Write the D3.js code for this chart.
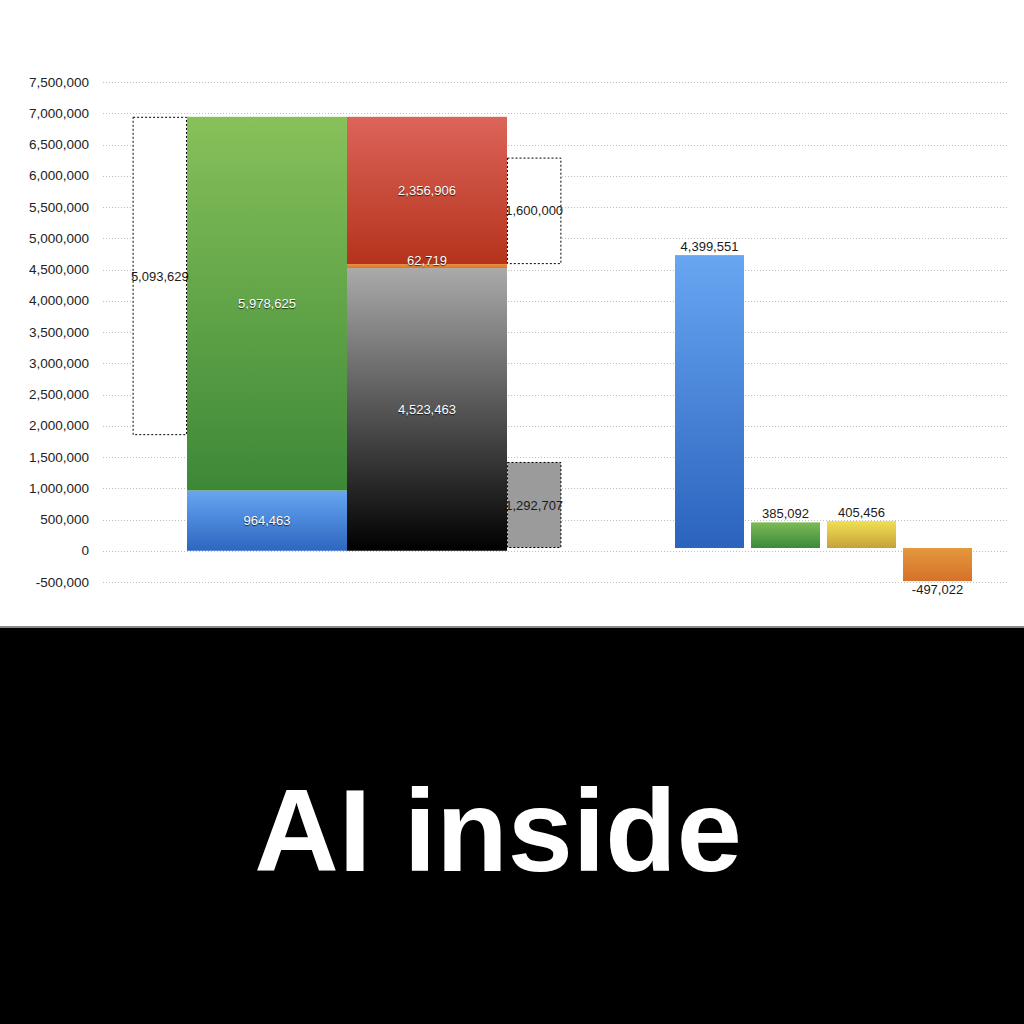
<!DOCTYPE html>
<html>
<head>
<meta charset="utf-8">
<script src="https://cdn.jsdelivr.net/npm/d3@7"></script>
<style>
  html, body { margin: 0; padding: 0; background: #fff; }
  text { font-family: "Liberation Sans", Helvetica, Arial, sans-serif; }
</style>
</head>
<body>
<div id="chart"></div>
<script>
// axis ticks
const ticks = [-500000, 0, 500000, 1000000, 1500000, 2000000, 2500000, 3000000,
  3500000, 4000000, 4500000, 5000000, 5500000, 6000000, 6500000, 7000000, 7500000]

// left stack: base + growth
const stackA = [
  { name: 'base', value: 964463, colors: ['#67a6f2', '#2d66c0'] },
  { name: 'growth', value: 5978625, colors: ['#87c15a', '#3d8837'] }
]
// right stack
const stackB = [
  { name: 'cost', value: 4523463, colors: ['#aaaaaa', '#000000'] },
  { name: 'other', value: 62719, colors: ['#ee8f3a', '#e0761f'] },
  { name: 'profit', value: 2356906, colors: ['#dc645a', '#b5331b'] }
]
// dotted boxes
const boxLeft = 5093629
const boxRight = 1600000
const boxGray = 1292707

// right-hand bars
const barCats = ['a', 'b', 'c', 'd']
const barValues = [4399551, 385092, 405456, -497022]
const barColors = [
  ['#68a6f2', '#2b63bd'],
  ['#7cbb56', '#3a8a3c'],
  ['#f2e052', '#c4a23a'],
  ['#e4983e', '#d6712a']
]

const fmt = d3.formatLocale({ decimal: '.', thousands: ',', grouping: [3], currency: ['', ''], minus: '-' }).format(',')

const svg = d3.select('#chart')
  .append('svg')
    .attr('width', 1024)
    .attr('height', 1024)

const defs = svg.append('defs')
function grad(id, c) {
  const g = defs.append('linearGradient')
    .attr('id', id)
    .attr('x1', 0).attr('y1', 0).attr('x2', 0).attr('y2', 1)
  g.append('stop').attr('offset', '0%').attr('stop-color', c[0])
  g.append('stop').attr('offset', '100%').attr('stop-color', c[1])
  return 'url(#' + id + ')'
}

const y = d3.scaleLinear().domain([-500000, 7500000]).range([582, 82])
// the right bars (and the right boxes) were pasted with their own slightly larger scale
const yR = d3.scaleLinear().domain([-500000, 7000000]).range([581.3, 82])
const hR = v => yR(0) - yR(v)

const xStack = d3.scaleBand().domain(['A', 'B']).range([187, 507]).padding(0)
const boxW = xStack.bandwidth() * 0.34
const xBar = d3.scaleBand().domain(barCats).range([671.5, 975.5])
  .paddingInner(0.092).paddingOuter(0.046)

// grid + axis labels
const axis = svg.append('g')
axis.selectAll('line')
  .data(ticks)
  .join('line')
    .attr('x1', 103).attr('x2', 1007)
    .attr('y1', d => Math.round(y(d)) + 0.5)
    .attr('y2', d => Math.round(y(d)) + 0.5)
    .style('stroke', '#bdbdbd')
    .style('stroke-width', 1)
    .style('stroke-dasharray', '1,2')
axis.selectAll('text')
  .data(ticks)
  .join('text')
    .attr('x', 89)
    .attr('y', d => y(d))
    .attr('dy', '0.35em')
    .attr('text-anchor', 'end')
    .style('font-size', '13.5px')
    .style('fill', '#222')
    .text(d => fmt(d))

function drawStack(stack, key) {
  let acc = 0
  const g = svg.append('g')
  stack.forEach((s, i) => {
    s.y0 = acc
    acc += s.value
    s.y1 = acc
    g.append('rect')
      .attr('x', xStack(key))
      .attr('width', xStack.bandwidth())
      .attr('y', y(s.y1))
      .attr('height', y(s.y0) - y(s.y1))
      .style('fill', grad('g' + key + i, s.colors))
  })
  return acc
}
const totalA = drawStack(stackA, 'A')
const totalB = drawStack(stackB, 'B')

function stackLabel(s, key, dy) {
  svg.append('text')
    .attr('x', xStack(key) + xStack.bandwidth() / 2)
    .attr('y', y((s.y0 + s.y1) / 2) + dy)
    .attr('dy', '0.35em')
    .attr('text-anchor', 'middle')
    .style('font-size', '13px')
    .style('fill', '#fff')
    .style('text-shadow', '0 1px 1px rgba(0,0,0,0.7)')
    .text(fmt(s.value))
}
stackLabel(stackA[0], 'A', 0)
stackLabel(stackA[1], 'A', 0)
stackLabel(stackB[0], 'B', 0)
stackLabel(stackB[1], 'B', -6)
stackLabel(stackB[2], 'B', 0)

// dotted boxes, given by pixel top/bottom from the scales
function box(x, top, bot, fill, label) {
  svg.append('rect')
    .attr('x', x + 0.5)
    .attr('y', top + 0.5)
    .attr('width', boxW - 1)
    .attr('height', bot - top - 1)
    .style('fill', fill)
    .style('stroke', '#000')
    .style('stroke-width', 1)
    .style('stroke-dasharray', '2,2')
  svg.append('text')
    .attr('x', x + boxW / 2)
    .attr('y', (top + bot) / 2)
    .attr('dy', '0.35em')
    .attr('text-anchor', 'middle')
    .style('font-size', '13px')
    .style('fill', '#1a1a1a')
    .text(fmt(label))
}
box(xStack('A') - boxW, y(totalA), y(totalA - boxLeft), '#fff', boxLeft)
const cut = stackB[0].value + stackB[1].value
const xRight = xStack('B') + xStack.bandwidth()
box(xRight, y(cut) - hR(boxRight), y(cut), '#fff', boxRight)
box(xRight, yR(boxGray), yR(0), '#9b9b9b', boxGray)

// right bars
const bars = svg.append('g')
barValues.forEach((v, i) => {
  const top = yR(Math.max(0, v))
  const bot = yR(Math.min(0, v))
  bars.append('rect')
    .attr('x', xBar(barCats[i]))
    .attr('width', xBar.bandwidth())
    .attr('y', top)
    .attr('height', bot - top)
    .style('fill', grad('bar' + i, barColors[i]))
  bars.append('text')
    .attr('x', xBar(barCats[i]) + xBar.bandwidth() / 2)
    .attr('y', v >= 0 ? top - 4 : bot + 13)
    .attr('text-anchor', 'middle')
    .style('font-size', '13px')
    .style('fill', '#1a1a1a')
    .text(fmt(v))
})

// bottom caption panel
svg.append('rect')
  .attr('x', 0).attr('y', 626)
  .attr('width', 1024).attr('height', 2)
  .style('fill', '#8a8a8a')
svg.append('rect')
  .attr('x', 0).attr('y', 628)
  .attr('width', 1024).attr('height', 396)
  .style('fill', '#000')
svg.append('text')
  .attr('x', 498)
  .attr('y', 871)
  .attr('text-anchor', 'middle')
  .style('font-size', '117px')
  .style('font-weight', 'bold')
  .style('fill', '#fff')
  .text('AI inside')
</script>
</body>
</html>
